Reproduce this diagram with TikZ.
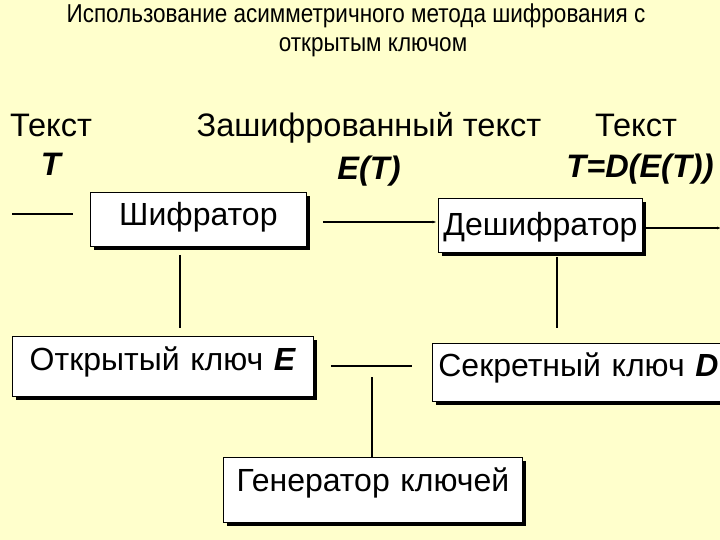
\documentclass[tikz,border=0pt]{standalone}
\usepackage{fontspec}
\setmainfont{Liberation Sans}
\usetikzlibrary{arrows.meta}
\definecolor{bgyellow}{RGB}{255,255,204}
\tikzset{
  box/.style={draw=black, line width=0.8pt, fill=white, inner sep=0pt, anchor=north west, align=center,
    font=\fontsize{32}{36}\selectfont,
    preaction={fill=black, transform canvas={xshift=3.5pt,yshift=-3.5pt}}},
  conn/.style={draw=black, line width=1.6pt},
  tip/.style={-{Latex[length=4pt,width=3pt]}},
  lbl/.style={anchor=base, inner sep=0pt, font=\fontsize{32.5}{36}\selectfont},
  ttl/.style={anchor=base, inner sep=0pt, font=\fontsize{22.5}{26}\selectfont}
}
\begin{document}
\begin{tikzpicture}[x=1pt,y=-1pt]
\useasboundingbox (0,0) rectangle (720,540);
\clip (0,0) rectangle (720,540);
\fill[bgyellow] (0,0) rectangle (720,540);
% title
\node[ttl] (t1) at (356,23) {\scalebox{1}[1.15]{Использование асимметричного метода шифрования с}};
\node[ttl] (t2) at (373,52) {\scalebox{1}[1.15]{открытым ключом}};
% labels
\node[lbl] (l1) at (51,137) {Текст};
\node[lbl] (l1b) at (52,176) {\textbf{\textit{T}}};
\node[lbl] (l2) at (369,137) {Зашифрованный текст};
\node[lbl] (l2b) at (369,180) {\textbf{\textit{E(T)}}};
\node[lbl] (l3) at (636,137) {Текст};
\node[lbl] (l3b) at (640,178) {\textbf{\textit{T=D(E(T))}}};
% boxes
\node[box, text width=216pt, text height=33pt, text depth=21pt] (shif) at (90,192) {Шифратор};
\node[box, text width=204pt, text height=37pt, text depth=17pt] (desh) at (438,198) {Дешифратор};
\node[box, text width=301pt, text height=34pt, text depth=26pt] (okey) at (12,336) {Открытый ключ \textbf{\textit{E}}};
\node[box, text width=292pt, text height=33pt, text depth=25pt] (skey) at (432,343) {Секретный ключ \textbf{\textit{D}}};
\node[box, text width=299pt, text height=34pt, text depth=31pt] (gen) at (223,457) {Генератор ключей};
% connector coordinates
\coordinate (inL) at (12,214);
\coordinate (y1) at (0,222);
\coordinate (outR) at (721,228);
\coordinate (x1) at (180,0);
\coordinate (x2) at (557,0);
\coordinate (y3) at (0,366);
\coordinate (x3) at (372,0);
% connectors
\draw[conn, shorten >=17pt] (inL) -- (shif.west |- inL);
\draw[conn, tip, shorten <=16pt, shorten >=1.5pt] (shif.east |- y1) -- (desh.west |- y1);
\draw[conn, tip] (desh.east |- outR) -- (outR);
\draw[conn, shorten <=8pt, shorten >=8pt] (shif.south -| x1) -- (okey.north -| x1);
\draw[conn, shorten <=4pt, shorten >=15pt] (desh.south -| x2) -- (skey.north -| x2);
\draw[conn, shorten <=17pt, shorten >=20pt] (okey.east |- y3) -- (skey.west |- y3);
\draw[conn] (x3 |- 0,377) -- (gen.north -| x3);
\end{tikzpicture}
\end{document}
